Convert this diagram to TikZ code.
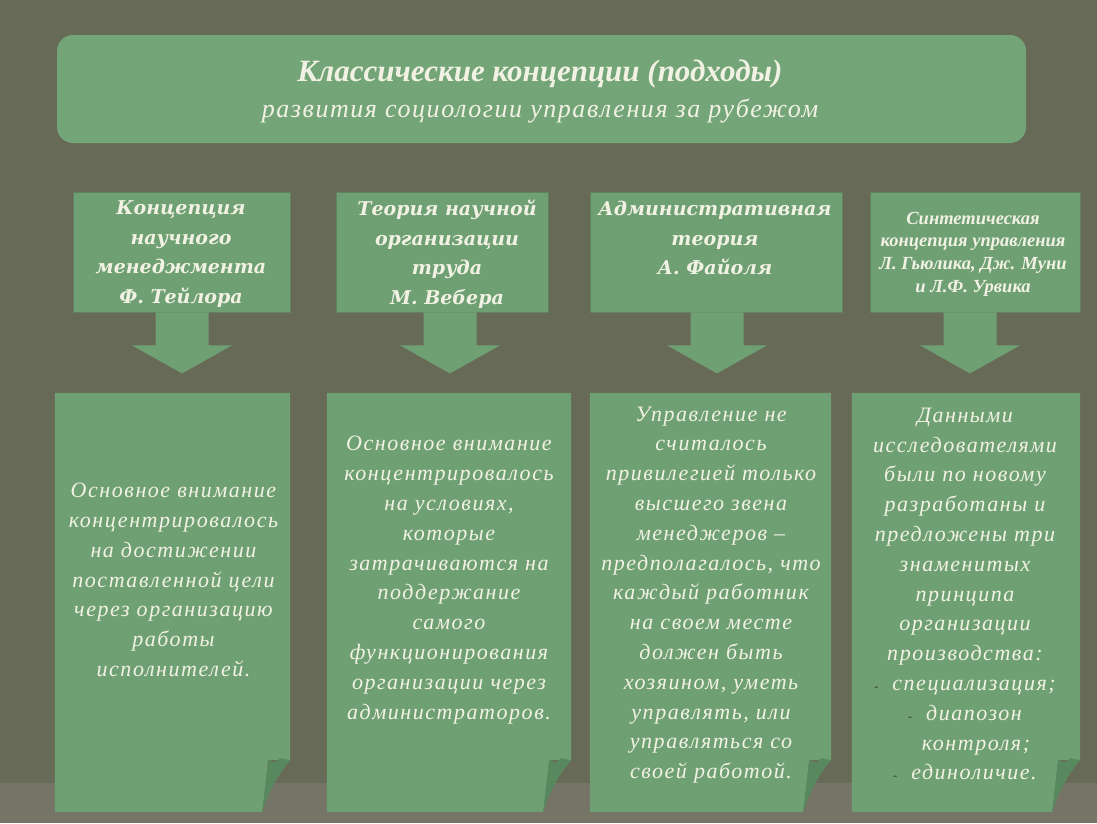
\documentclass[tikz,border=0pt]{standalone}
\usepackage{fontspec}
\setmainfont{Liberation Serif}
\newfontfamily\bodyfont[LetterSpace=7]{Liberation Serif}
\newfontfamily\headfont{DejaVu Serif}
\newfontfamily\subfont[LetterSpace=6]{Liberation Serif}
\usetikzlibrary{calc}
\definecolor{bg}{RGB}{104,106,88}
\definecolor{boxg}{RGB}{111,160,115}
\definecolor{titleg}{RGB}{115,165,120}
\definecolor{foldg}{RGB}{88,136,94}
\definecolor{txt}{RGB}{242,242,228}
\definecolor{shadowc}{RGB}{118,116,102}
\definecolor{edgeg}{RGB}{96,130,98}
\tikzset{
  topbox/.style={fill=boxg, draw=edgeg, line width=0.8pt, inner sep=0pt, minimum height=120pt},
  topname/.style={text=txt, align=center, inner sep=0pt, font=\headfont\bfseries\itshape\fontsize{19}{29.5}\selectfont},
  topsmall/.style={text=txt, align=center, inner sep=0pt, font=\bfseries\itshape\fontsize{18.5}{22.7}\selectfont},
  botbox/.style={inner sep=0pt, minimum height=419pt},
  bottext/.style={text=txt, align=center, inner sep=0pt, font=\bodyfont\itshape\fontsize{22}{29.8}\selectfont},
}
\newcommand{\blockarrow}[2]{%
  \fill[boxg] ($(#1.south)+(#2-26.5,0)$) -- ($(#1.south)+(#2+26.5,0)$) --
    ($(#1.south)+(#2+26.5,33)$) -- ($(#1.south)+(#2+50,33)$) --
    ($(#1.south)+(#2,61)$) -- ($(#1.south)+(#2-50,33)$) --
    ($(#1.south)+(#2-26.5,33)$) -- cycle;}
\newcommand{\curlbox}[1]{%
  \fill[boxg] (#1.north west) -- (#1.north east) -- ($(#1.south east)+(0,-52)$)
    -- ($(#1.south east)+(-22,-52)$) -- ($(#1.south east)+(-28,0)$)
    -- (#1.south west) -- cycle;
  \fill[foldg] ($(#1.south east)+(-22,-52)$) -- ($(#1.south east)+(-15,-50)$) -- ($(#1.south east)+(-10,-54)$) -- ($(#1.south east)+(0,-52)$)
    .. controls ($(#1.south east)+(-12,-38)$) and ($(#1.south east)+(-22,-20)$) .. ($(#1.south east)+(-28,0)$) -- cycle;}
\begin{document}
\begin{tikzpicture}[x=1pt,y=-1pt]
\fill[bg] (0,0) rectangle (1097,823);
\fill[shadowc] (0,783) rectangle (1097,823);
\useasboundingbox (0,0) rectangle (1097,823);

% title
\node[fill=titleg, rounded corners=16pt, minimum width=969pt, minimum height=108pt, inner sep=0pt] (title) at (541.5,89) {};
\node[text=txt, inner sep=0pt, font=\bfseries\itshape\fontsize{31}{32}\selectfont] (title1) at (540,74) {Классические концепции (подходы)};
\node[text=txt, inner sep=0pt, font=\subfont\itshape\fontsize{26}{30}\selectfont] (title2) at (540,111) {развития социологии управления за рубежом};

% top boxes
\node[topbox, minimum width=217pt] (t1) at (181.5,252) {};
\node[topbox, minimum width=212pt] (t2) at (442,252) {};
\node[topbox, minimum width=252pt] (t3) at (716,252) {};
\node[topbox, minimum width=210pt] (t4) at (975,252) {};

\node[topname] (t1x) at (181,254) {Концепция\\научного\\менеджмента\\Ф. Тейлора};
\node[topname] (t2x) at (447,254) {Теория научной\\организации\\труда\\М. Вебера};
\node[topname] (t3x) at (715,238) {Административная\\теория\\А. Файоля};
\node[topsmall] (t4x) at (973,254) {Синтетическая\\концепция управления\\Л. Гьюлика, Дж. Муни\\и Л.Ф. Урвика};

% arrows
\blockarrow{t1}{0.5}
\blockarrow{t2}{8}
\blockarrow{t3}{1}
\blockarrow{t4}{-5}

% bottom boxes
\node[botbox, minimum width=235pt] (b1) at (172.5,602.5) {};
\node[botbox, minimum width=244pt] (b2) at (449,602.5) {};
\node[botbox, minimum width=241pt] (b3) at (710.5,602.5) {};
\node[botbox, minimum width=228pt] (b4) at (966,602.5) {};
\curlbox{b1}
\curlbox{b2}
\curlbox{b3}
\curlbox{b4}

\node[bottext] (b1x) at (173.5,580) {Основное внимание\\концентрировалось\\на достижении\\поставленной цели\\через организацию\\работы\\исполнителей.};
\node[bottext] (b2x) at (449,580) {Основное внимание\\концентрировалось\\на условиях,\\которые\\затрачиваются на\\поддержание\\самого\\функционирования\\организации через\\администраторов.};
\node[bottext] (b3x) at (711,595) {Управление не\\считалось\\привилегией только\\высшего звена\\менеджеров –\\предполагалось, что\\каждый работник\\на своем месте\\должен быть\\хозяином, уметь\\управлять, или\\управляться со\\своей работой.};
\node[bottext] (b4x) at (965,594) {Данными\\исследователями\\были по новому\\разработаны и\\предложены три\\знаменитых\\принципа\\организации\\производства:\\{\textcolor{black!80}{\fontsize{12}{12}\selectfont -}}\hspace{14pt}специализация;\\{\textcolor{black!80}{\fontsize{12}{12}\selectfont -}}\hspace{14pt}диапозон\\\hspace{22pt}контроля;\\{\textcolor{black!80}{\fontsize{12}{12}\selectfont -}}\hspace{14pt}единоличие.};
\end{tikzpicture}
\end{document}
